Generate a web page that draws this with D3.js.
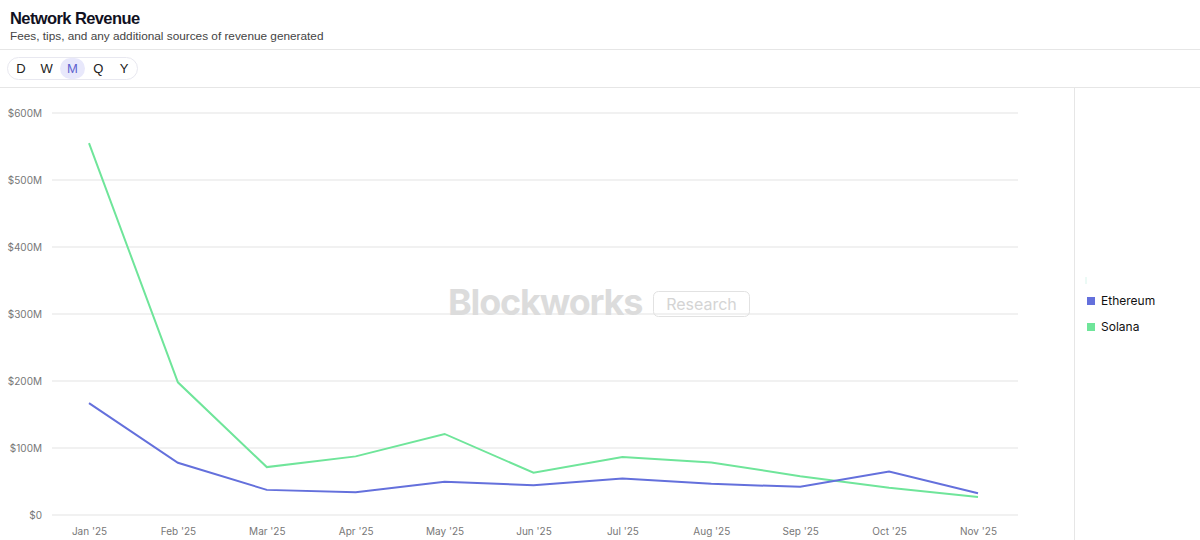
<!DOCTYPE html>
<html>
<head>
<meta charset="utf-8">
<script src="https://cdn.jsdelivr.net/npm/d3@7"></script>
<style>
  body { margin: 0; background: #fff; font-family: Inter, "Noto Sans", sans-serif; }
  svg { display: block; }
</style>
</head>
<body>
<div id="chart"></div>
<script>
// monthly network revenue, USD
var months = ["Jan '25", "Feb '25", "Mar '25", "Apr '25", "May '25", "Jun '25", "Jul '25", "Aug '25", "Sep '25", "Oct '25", "Nov '25"];
var ethereum = [167e6, 78e6, 37.5e6, 34e6, 49.5e6, 44.5e6, 54.5e6, 46.5e6, 42e6, 65e6, 32.5e6];
var solana = [555e6, 198e6, 71.5e6, 87.5e6, 121e6, 63e6, 86.5e6, 78.5e6, 58e6, 40.5e6, 27e6];
var yTicks = [0, 100e6, 200e6, 300e6, 400e6, 500e6, 600e6];
var periods = ["D", "W", "M", "Q", "Y"];

var svgWidth = 1200;
var svgHeight = 540;

var svg = d3.select("#chart")
  .append("svg")
  .attr("width", svgWidth)
  .attr("height", svgHeight);

// header
svg.append("text")
  .attr("x", 10).attr("y", 24)
  .attr("font-family", "'Liberation Sans', Arial, sans-serif")
  .attr("font-size", 16.5).attr("font-weight", 700)
  .attr("letter-spacing", -0.6)
  .attr("fill", "#111122")
  .text("Network Revenue");

svg.append("text")
  .attr("x", 10).attr("y", 40)
  .attr("font-family", "'Liberation Sans', Arial, sans-serif")
  .attr("font-size", 11.8)
  .attr("fill", "#444")
  .text("Fees, tips, and any additional sources of revenue generated");

svg.append("line").attr("x1", 0).attr("x2", svgWidth).attr("y1", 49.5).attr("y2", 49.5).attr("stroke", "#e6e6e6");
svg.append("line").attr("x1", 0).attr("x2", svgWidth).attr("y1", 87.5).attr("y2", 87.5).attr("stroke", "#e6e6e6");
svg.append("line").attr("x1", 1074.5).attr("x2", 1074.5).attr("y1", 88).attr("y2", svgHeight).attr("stroke", "#e6e6e6");

// period toggle
svg.append("rect")
  .attr("x", 7.5).attr("y", 57.5).attr("width", 130).attr("height", 22).attr("rx", 11)
  .attr("fill", "#fff").attr("stroke", "#e8e8f0");

var periodX = d3.scalePoint().domain(periods).range([21, 124]);

svg.append("rect")
  .attr("x", periodX("M") - 12.5).attr("y", 58).attr("width", 25).attr("height", 21).attr("rx", 10.5)
  .attr("fill", "#e8e8fb");

svg.selectAll(".period").data(periods).enter()
  .append("text")
  .attr("class", "period")
  .attr("x", d => periodX(d))
  .attr("y", 73)
  .attr("text-anchor", "middle")
  .attr("font-family", "'Liberation Sans', Arial, sans-serif")
  .attr("font-size", 13)
  .attr("fill", d => d == "M" ? "#5c62cf" : "#222")
  .text(d => d);

// scales
var xScale = d3.scalePoint().domain(months).range([89, 978]);
var yScale = d3.scaleLinear().domain([0, 600e6]).range([515, 113]);

// grid
svg.append("g").selectAll("line").data(yTicks).enter()
  .append("line")
  .attr("x1", 52).attr("x2", 1018)
  .attr("y1", d => yScale(d)).attr("y2", d => yScale(d))
  .attr("stroke", "#ececec").attr("stroke-width", 1.5);

var leftAxis = d3.axisLeft(yScale)
  .tickValues(yTicks)
  .tickSize(0)
  .tickPadding(5)
  .tickFormat(d => "$" + (d / 1e6) + (d == 0 ? "" : "M"));

var yAxis = svg.append("g").attr("transform", "translate(47,0)").call(leftAxis);
yAxis.select(".domain").remove();
yAxis.selectAll("text").attr("font-size", 10).attr("fill", "#777").attr("font-family", "Inter, sans-serif");

var bottomAxis = d3.axisBottom(xScale).tickSize(0).tickPadding(8);
var xAxis = svg.append("g").attr("transform", "translate(0,520)").call(bottomAxis);
xAxis.select(".domain").remove();
xAxis.selectAll("text").attr("font-size", 10).attr("fill", "#777").attr("font-family", "Inter, sans-serif");

// watermark
svg.append("text")
  .attr("x", 448).attr("y", 315)
  .attr("font-size", 36).attr("font-weight", 700)
  .attr("letter-spacing", -1.2)
  .attr("fill", "#dcdcdc")
  .text("Blockworks");

svg.append("rect")
  .attr("x", 653.5).attr("y", 291.5).attr("width", 96).attr("height", 25).attr("rx", 5)
  .attr("fill", "none").attr("stroke", "#e2e2e2");

svg.append("text")
  .attr("x", 701.5).attr("y", 310)
  .attr("text-anchor", "middle")
  .attr("font-size", 16)
  .attr("fill", "#d4d4d4")
  .text("Research");

// lines
var line = d3.line()
  .x((d, i) => xScale(months[i]))
  .y(d => yScale(d));

svg.append("path")
  .datum(solana)
  .attr("d", line)
  .attr("fill", "none")
  .attr("stroke", "#6fe59a")
  .attr("stroke-width", 2);

svg.append("path")
  .datum(ethereum)
  .attr("d", line)
  .attr("fill", "none")
  .attr("stroke", "#6470dc")
  .attr("stroke-width", 2);

// legend
var legend = [{name: "Ethereum", color: "#6470dc"}, {name: "Solana", color: "#6fe59a"}];

svg.append("line")
  .attr("x1", 1086).attr("x2", 1086).attr("y1", 277).attr("y2", 284)
  .attr("stroke", "#d8f5ec");

var items = svg.selectAll(".legend").data(legend).enter()
  .append("g")
  .attr("class", "legend")
  .attr("transform", (d, i) => `translate(1087, ${297 + i * 26})`);

items.append("rect")
  .attr("width", 8).attr("height", 8)
  .attr("fill", d => d.color);

items.append("text")
  .attr("x", 14).attr("y", 8)
  .attr("font-size", 12)
  .attr("fill", "#111")
  .text(d => d.name);
</script>
</body>
</html>
